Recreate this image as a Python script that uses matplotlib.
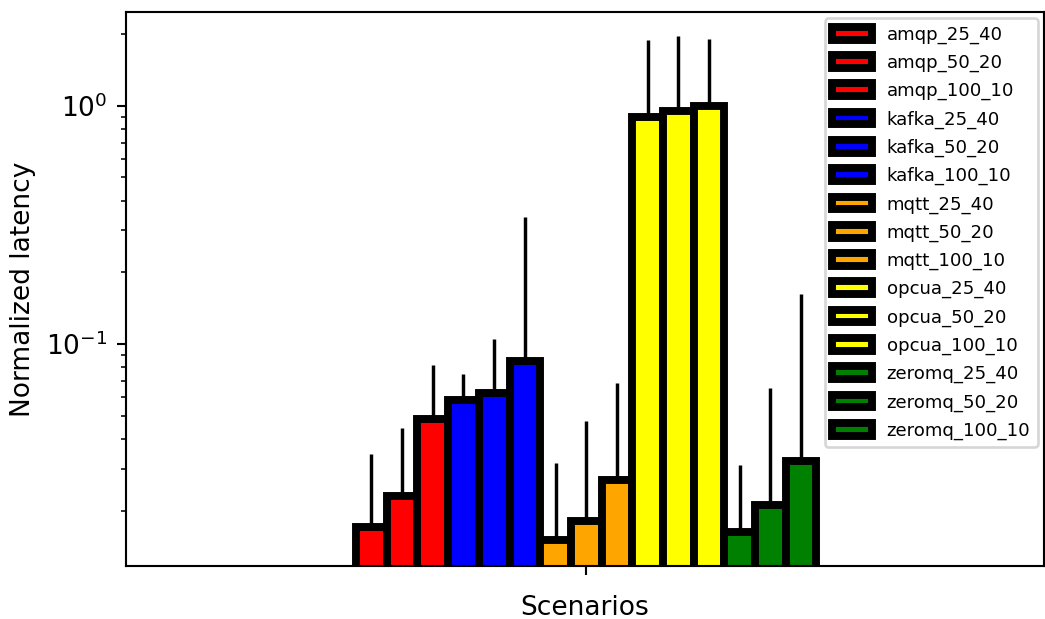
import numpy as np
import matplotlib
matplotlib.use("Agg")
import matplotlib.pyplot as plt

# ---------------------------------------------------
# DATA
# ---------------------------------------------------
scenarios = [
    "amqp_25_40", "amqp_50_20", "amqp_100_10",
    "kafka_25_40", "kafka_50_20", "kafka_100_10",
    "mqtt_25_40", "mqtt_50_20", "mqtt_100_10",
    "opcua_25_40", "opcua_50_20", "opcua_100_10",
    "zeromq_25_40", "zeromq_50_20", "zeromq_100_10",
]
latency = [
    0.0171, 0.0231, 0.0486,
    0.0582, 0.0622, 0.0848,
    0.0151, 0.0182, 0.0269,
    0.892, 0.948, 1.0,
    0.0163, 0.0212, 0.0323,
]
# upper end of each error whisker
whisker_top = [
    0.0346, 0.0445, 0.0817,
    0.0749, 0.105, 0.342,
    0.0317, 0.0475, 0.0687,
    1.89, 1.95, 1.91,
    0.0312, 0.0653, 0.163,
]
protocol_colors = ["red", "blue", "orange", "yellow", "green"]

# ---------------------------------------------------
# PLOT
# ---------------------------------------------------
dpi = 190
fig = plt.figure(figsize=(1045 / dpi, 619 / dpi), dpi=dpi)
ax = fig.add_axes([126 / 1045, 1 - 565.7 / 619, (1044 - 126) / 1045, (565.7 - 12) / 619])

width = 1.0
n = len(scenarios)
for i, name in enumerate(scenarios):
    x = (i - n // 2) * width
    err_up = whisker_top[i] - latency[i]
    ax.bar(x, latency[i], width=width, color=protocol_colors[i // 3],
           edgecolor="black", linewidth=3, label=name,
           yerr=[[0], [err_up]], error_kw={"elinewidth": 1.3, "ecolor": "black"})

ax.set_yscale("log")
ax.set_ylim(0.01178, 2.47)
ax.set_xlim(-15 * width, 14.92 * width)
ax.set_xticks([0])
ax.set_xticklabels([""])
ax.set_xlabel("Scenarios")
ax.set_ylabel("Normalized latency")
ax.legend(loc="upper right", fontsize=6.9, handlelength=2.2, labelspacing=0.55,
          borderaxespad=0.35)

fig.savefig("out.png", dpi=dpi)
